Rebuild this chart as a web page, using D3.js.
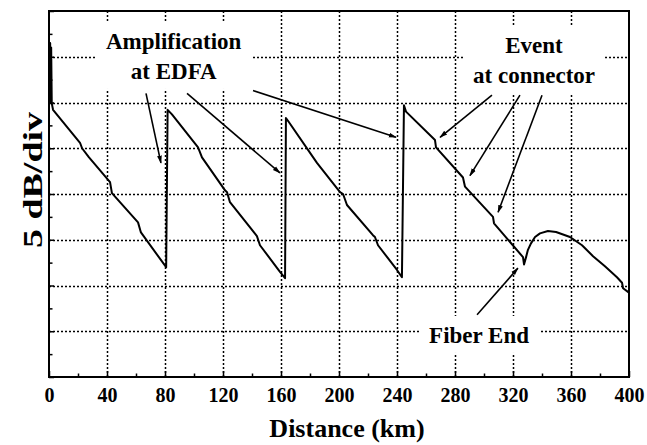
<!DOCTYPE html>
<html>
<head>
<meta charset="utf-8">
<script src="https://cdn.jsdelivr.net/npm/d3@7"></script>
<style>
  body { margin: 0; background: #ffffff; }
  svg text { font-family: "Liberation Serif", "Times New Roman", serif; font-weight: bold; fill: #000; }
</style>
</head>
<body>
<div id="chart"></div>
<script>
// OTDR trace, values (km, relative dB; 5 dB per division)
const distanceKm = [
  0.5, 0.8, 1.2, 1.5, 1.9, 2.8, 21.4, 22.8, 27.6, 42.1, 43.4, 61.4, 63.4, 80.8,
  81.8, 84.8, 102.8, 105.5, 121.4, 122.8, 124.8, 143.4, 145.5, 159.3, 162.8,
  163.4, 164.8, 184.8, 200.7, 202.8, 205.5, 223.4, 224.8, 226.9, 240.0, 243.4,
  244.8, 246.2, 266.2, 266.9, 285.5, 286.9, 306.2, 306.9, 326.9, 327.6,
  329.0, 330.3, 332.4, 335.2, 338.6, 344.1, 349.7, 359.3, 367.6, 375.2, 383.4,
  391.7, 395.2, 395.9, 399.3, 400
];
const levelDb = [
  29.9, 36.5, 30.5, 36.0, 29.9, 29.2, 25.6, 25.0, 24.0, 21.3, 20.1, 16.9, 15.8, 12.0,
  29.2, 28.7, 25.1, 24.0, 20.4, 20.2, 19.1, 15.4, 14.4, 11.5, 10.8,
  28.3, 28.0, 23.4, 20.2, 20.0, 18.8, 15.5, 15.3, 14.4, 11.7, 10.9,
  29.7, 29.0, 25.9, 25.1, 21.8, 20.8, 17.5, 16.8, 13.1, 12.3,
  13.1, 13.9, 14.6, 15.3, 15.7, 15.95, 15.85, 15.3, 14.4, 13.2, 12.1,
  10.9, 10.3, 9.7, 9.3, 9.2
];

const xTickValues = [0, 40, 80, 120, 160, 200, 240, 280, 320, 360, 400];
const xMinorTicks = [20, 60, 100, 140, 180, 220, 260, 300, 340, 380];
const yGridValues = [0, 5, 10, 15, 20, 25, 30, 35, 40];
const yMinorTicks = [2.5, 7.5, 12.5, 17.5, 22.5, 27.5, 32.5, 37.5];

// annotation texts (anchor in km / dB)
const noteLines = [['Amplification', 'at EDFA'], ['Event', 'at connector'], ['Fiber End']];
const noteKm = [86, 334.5, 296.6];
const noteDb = [35.85, 35.4, 3.72];

// pointer lines [km0, dB0, km1, dB1]
const pointers = [
  [66.9, 31.0, 77.2, 23.4],
  [95.2, 31.0, 159.3, 22.3],
  [140.7, 31.3, 239.3, 26.2],
  [305.5, 30.8, 269.7, 26.2],
  [324.8, 30.8, 290.3, 22.0],
  [340.0, 30.8, 309.7, 18.0],
  [295.2, 6.8, 323.4, 11.9]
];

const width = 647, height = 445;
const margin = { top: 11, right: 18, bottom: 68, left: 49 };
const plotW = width - margin.left - margin.right;
const plotH = height - margin.top - margin.bottom;

const svg = d3.select('#chart').append('svg')
  .attr('width', width)
  .attr('height', height);

const x = d3.scaleLinear().domain([0, 400]).range([margin.left, margin.left + plotW]);
const y = d3.scaleLinear().domain([0, 40]).range([margin.top + plotH, margin.top]);

/* ----------dotted grid------------*/
const grid = svg.append('g')
  .attr('stroke', '#000')
  .attr('stroke-width', 1.5)
  .attr('stroke-dasharray', '2,2');

grid.selectAll('.vgrid').data(xTickValues.slice(1, -1)).enter().append('line')
  .attr('x1', d => Math.round(x(d)) + 0.5).attr('x2', d => Math.round(x(d)) + 0.5)
  .attr('y1', y(40)).attr('y2', y(0));

grid.selectAll('.hgrid').data(yGridValues.slice(1, -1)).enter().append('line')
  .attr('x1', x(0)).attr('x2', x(400))
  .attr('y1', d => Math.round(y(d)) + 0.5).attr('y2', d => Math.round(y(d)) + 0.5);

/* ----------annotation texts on white boxes------------*/
noteLines.forEach((lines, i) => {
  const g = svg.append('g');
  const t = g.append('text')
    .attr('text-anchor', 'middle')
    .style('font-size', '23px');
  lines.forEach((s, j) => {
    t.append('tspan')
      .attr('x', x(noteKm[i]))
      .attr('y', y(noteDb[i]) + j * 30)
      .text(s);
  });
  const b = t.node().getBBox();
  g.insert('rect', 'text')
    .attr('x', b.x - 10).attr('y', b.y - 7)
    .attr('width', b.width + 20).attr('height', b.height + 12)
    .attr('fill', '#fff');
});

/* ----------pointer lines------------*/
svg.append('defs').append('marker')
  .attr('id', 'tip')
  .attr('viewBox', '0 0 10 10')
  .attr('refX', 9).attr('refY', 5)
  .attr('markerWidth', 5).attr('markerHeight', 5)
  .attr('orient', 'auto')
  .append('path')
  .attr('d', 'M0,2 L10,5 L0,8 Z')
  .attr('fill', '#000');

svg.append('g').selectAll('line').data(pointers).enter().append('line')
  .attr('x1', d => x(d[0])).attr('y1', d => y(d[1]))
  .attr('x2', d => x(d[2])).attr('y2', d => y(d[3]))
  .attr('stroke', '#000')
  .attr('stroke-width', 1.6)
  .attr('marker-end', 'url(#tip)');

/* ----------trace------------*/
const trace = d3.line()
  .x(d => x(d[0]))
  .y(d => y(d[1]));

svg.append('path')
  .datum(d3.zip(distanceKm, levelDb))
  .attr('d', trace)
  .attr('fill', 'none')
  .attr('stroke', '#000')
  .attr('stroke-width', 2)
  .attr('stroke-linejoin', 'round');

/* ----------axes------------*/
const xAxis = svg.append('g')
  .attr('transform', `translate(0,${y(0)})`)
  .call(d3.axisBottom(x).tickValues(xTickValues).tickSize(-6).tickPadding(11));
xAxis.select('.domain').remove();
xAxis.selectAll('text').style('font-size', '20px');
xAxis.selectAll('line').attr('stroke-width', 1.5);

const xMinor = svg.append('g')
  .attr('transform', `translate(0,${y(0)})`)
  .call(d3.axisBottom(x).tickValues(xMinorTicks).tickSize(-3.5).tickFormat(''));
xMinor.select('.domain').remove();
xMinor.selectAll('line').attr('stroke-width', 1.5);

const yAxis = svg.append('g')
  .attr('transform', `translate(${x(0)},0)`)
  .call(d3.axisLeft(y).tickValues(yGridValues).tickSize(-5).tickFormat(''));
yAxis.select('.domain').remove();
yAxis.selectAll('line').attr('stroke-width', 1.5);

const yMinor = svg.append('g')
  .attr('transform', `translate(${x(0)},0)`)
  .call(d3.axisLeft(y).tickValues(yMinorTicks).tickSize(-3.5).tickFormat(''));
yMinor.select('.domain').remove();
yMinor.selectAll('line').attr('stroke-width', 1.5);

/* ----------frame------------*/
svg.append('rect')
  .attr('x', x(0)).attr('y', y(40))
  .attr('width', x(400) - x(0)).attr('height', y(0) - y(40))
  .attr('fill', 'none')
  .attr('stroke', '#000')
  .attr('stroke-width', 2);

/* ----------axis titles------------*/
svg.append('text')
  .attr('x', (x(0) + x(400)) / 2 + 8)
  .attr('y', 437)
  .attr('text-anchor', 'middle')
  .style('font-size', '26px')
  .text('Distance (km)');

svg.append('text')
  .attr('transform', `translate(42,${(y(0) + y(40)) / 2 - 14}) rotate(-90)`)
  .attr('text-anchor', 'middle')
  .attr('textLength', 136)
  .attr('lengthAdjust', 'spacingAndGlyphs')
  .style('font-size', '28px')
  .text('5 dB/div');
</script>
</body>
</html>
